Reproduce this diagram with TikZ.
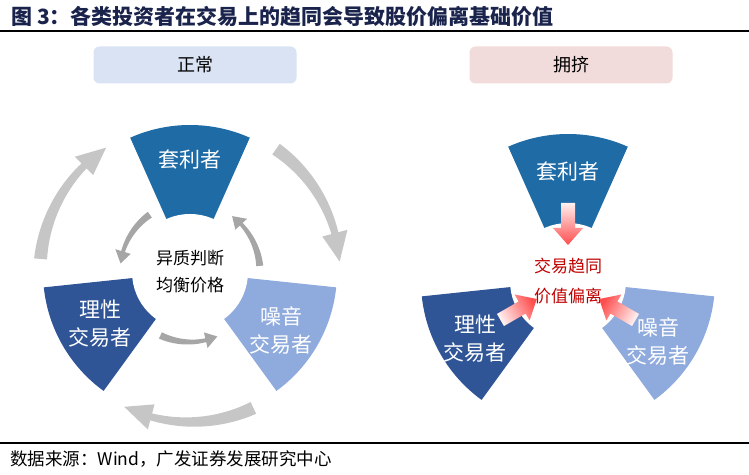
\documentclass[tikz,border=0pt]{standalone}
\usepackage{fontspec}
\newfontfamily\cjk{Noto Sans CJK SC}
\usetikzlibrary{positioning,calc}

\definecolor{arbblue}{RGB}{30,107,165}
\definecolor{ratblue}{RGB}{47,85,151}
\definecolor{noiseblue}{RGB}{143,170,220}
\definecolor{normfill}{RGB}{218,227,243}
\definecolor{crowdfill}{RGB}{242,220,219}
\definecolor{titlecol}{RGB}{25,35,75}
\definecolor{devred}{RGB}{192,0,0}

% annular wedge round the current origin: #1 middle angle, #2 colour
\newcommand{\wedgeband}[2]{%
  \fill[#2] ({#1-24}:50) -- ({#1-24}:147)
    arc[start angle={#1-24}, end angle={#1+24}, radius=147]
    -- ({#1+24}:50) arc[start angle={#1+24}, end angle={#1-24}, radius=50] -- cycle;}

% bent arrow round the current origin:
% #1 radius, #2 tail angle, #3 neck angle, #4 tip angle, #5 half width, #6 head half width
\newcommand{\bentarrow}[6]{%
  plot[domain=#2:#3, samples=24] (\x:{#1-#5*(1-0.45*(\x-(#2))/((#3)-(#2)))})
  -- (#3:{#1-#6}) -- (#4:#1) -- (#3:{#1+#6})
  -- plot[domain=#3:#2, samples=24] (\x:{#1+#5*(1-0.45*(\x-(#2))/((#3)-(#2)))}) -- cycle}

% block arrow pointing to the current origin: #1 radial angle, #2 shading angle
\newcommand{\pushrarrow}[2]{%
  \shade[top color=red!6, bottom color=red!70!white, shading angle=#2]
    ($({#1}:78)+({#1+90}:7)$) -- ($({#1}:53)+({#1+90}:7)$) -- ($({#1}:53)+({#1+90}:15)$)
    -- ({#1}:36) -- ($({#1}:53)+({#1-90}:15)$) -- ($({#1}:53)+({#1-90}:7)$)
    -- ($({#1}:78)+({#1-90}:7)$) -- cycle;}

\begin{document}
\begin{tikzpicture}[
  x=1pt, y=1pt,
  hdr/.style={rounded corners=6pt, minimum width=203pt, minimum height=37pt,
              font=\cjk\fontsize{18}{18}\selectfont},
  sectxt/.style={text=white, align=center, font=\cjk\fontsize{21}{28}\selectfont},
  coretxt/.style={align=center, font=\cjk\fontsize{17}{27}\selectfont},
  core/.style={circle, fill=white, minimum size=116pt, inner sep=0pt},
  outerarr/.style={fill=gray!45},
  innerarr/.style={fill=gray!70},
]
  \useasboundingbox (0,0) rectangle (749,474);

  % title and rules
  \node[anchor=west, text=titlecol, inner sep=0pt,
        font=\cjk\bfseries\fontsize{21}{21}\selectfont] (title) at (11,458)
        {图\ 3：各类投资者在交易上的趋同会导致股价偏离基础价值};
  \draw[line width=1.3pt] (0,443) -- (749,443);
  \draw[line width=1.3pt] (0,31) -- (749,31);
  \node[anchor=west, inner sep=0pt, font=\cjk\fontsize{17.5}{17.5}\selectfont] (source)
        at (10,15) {数据来源：Wind，广发证券发展研究中心};

  % headers
  \node[hdr, fill=normfill] (normhdr) at (195,409) {正常};
  \node[hdr, fill=crowdfill] (crowdhdr) at (571,409) {拥挤};

  % normal state
  \begin{scope}[shift={(190,202)}]
    \fill[outerarr] \bentarrow{150}{175}{135}{124}{6.5}{13};
    \fill[outerarr] \bentarrow{150}{55}{15}{4}{6.5}{13};
    \fill[outerarr] \bentarrow{150}{295}{255}{244}{6.5}{13};
    \wedgeband{90}{arbblue}
    \wedgeband{210}{ratblue}
    \wedgeband{330}{noiseblue}
    \node[core] (normcore) at (0,0) {};
    \fill[innerarr] \bentarrow{70}{125}{163}{173}{3.5}{8};
    \fill[innerarr] \bentarrow{70}{5}{43}{53}{3.5}{8};
    \fill[innerarr] \bentarrow{70}{245}{283}{293}{3.5}{8};
  \end{scope}
  \node[sectxt] (normarb) at (190,314) {套利者};
  \node[sectxt] (normrat) at (100,150) {理性\\交易者};
  \node[sectxt] (normnoise) at (281,144) {噪音\\交易者};
  \node[coretxt] (normtxt) at (normcore) {异质判断\\均衡价格};

  % crowded state
  \begin{scope}[shift={(568,193)}]
    \wedgeband{90}{arbblue}
    \wedgeband{210}{ratblue}
    \wedgeband{330}{noiseblue}
    \node[core] (crowdcore) at (0,0) {};
  \end{scope}
  \node[sectxt] (crowdarb) at (568,302) {套利者};
  \node[sectxt] (crowdrat) at (475,135) {理性\\交易者};
  \node[sectxt] (crowdnoise) at (658,133) {噪音\\交易者};
  \node[coretxt, text=devred, font=\cjk\fontsize{17}{30}\selectfont] (crowdtxt)
        at (crowdcore) {交易趋同\\价值偏离};
  \begin{scope}[shift={(568,193)}]
    \pushrarrow{90}{0}
    \pushrarrow{210}{120}
    \pushrarrow{330}{240}
  \end{scope}
\end{tikzpicture}
\end{document}
